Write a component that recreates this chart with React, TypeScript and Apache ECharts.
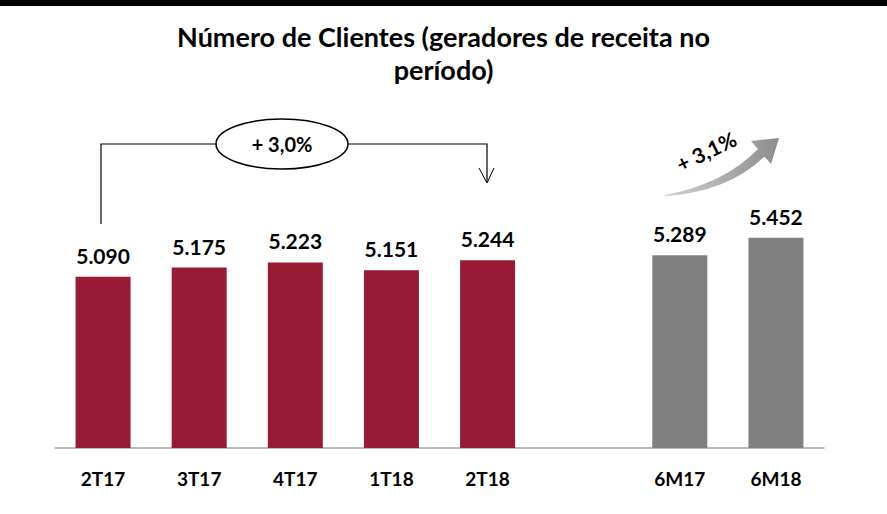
import React, { useEffect, useRef } from "react";
import * as echarts from "echarts";

const categories = ["2T17", "3T17", "4T17", "1T18", "2T18", "", "6M17", "6M18"];
const values: (number | null)[] = [5090, 5175, 5223, 5151, 5244, null, 5289, 5452];
const valueLabels = ["5.090", "5.175", "5.223", "5.151", "5.244", "", "5.289", "5.452"];
const barColors = ["#981B36", "#981B36", "#981B36", "#981B36", "#981B36", "#981B36", "#808080", "#808080"];
const growthQuarter = "+ 3,0%";
const growthSemester = "+ 3,1%";
const titleText = "Número de Clientes (geradores de receita no\nperíodo)";

const FONT = "Lato, 'Open Sans', sans-serif";

echarts.graphic.registerShape(
  "curvedArrow",
  echarts.graphic.extendPath(
    "M665 195 Q724 184 758 149 L765 156 Q728 192 665 196 Z M751 141 L779 138 L771 164 Z",
    {}
  )
);

export default function App() {
  const ref = useRef<HTMLDivElement>(null);
  useEffect(() => {
    if (!ref.current) return;
    const chart = echarts.init(ref.current, null, { renderer: "svg" });
    chart.setOption({
      animation: false,
      backgroundColor: "#ffffff",
      title: {
        text: titleText,
        left: "center",
        top: 15,
        textStyle: { fontFamily: FONT, fontWeight: "bold", fontSize: 27, lineHeight: 33, color: "#000" },
      },
      grid: { left: 55, right: 63, top: 71, bottom: 66 },
      xAxis: {
        type: "category",
        data: categories,
        axisLine: { show: true, lineStyle: { color: "#A6A6A6", width: 1.5 } },
        axisTick: { show: false },
        axisLabel: { margin: 21, fontFamily: FONT, fontWeight: "bold", fontSize: 19, color: "#000" },
      },
      yAxis: {
        type: "value",
        min: 3500,
        max: 7000,
        show: false,
        splitLine: { show: false },
      },
      series: [
        {
          type: "bar",
          barWidth: 55,
          data: values.map((v, i) => ({
            value: v === null ? "-" : v,
            itemStyle: { color: barColors[i] },
            label: { formatter: valueLabels[i] },
          })),
          label: {
            show: true,
            position: "top",
            distance: 11,
            fontFamily: FONT,
            fontWeight: "bold",
            fontSize: 21,
            color: "#000",
          },
        },
      ],
      graphic: [
        { type: "rect", shape: { x: 0, y: 0, width: 887, height: 6 }, style: { fill: "#000" } },
        {
          type: "polyline",
          shape: { points: [[101, 224], [101, 144], [487, 144], [487, 182]] },
          style: { stroke: "#000", lineWidth: 1.2, fill: "none" },
        },
        {
          type: "polyline",
          shape: { points: [[479, 168], [487, 183], [494, 168]] },
          style: { stroke: "#000", lineWidth: 1, fill: "none" },
        },
        {
          type: "ellipse",
          shape: { cx: 282, cy: 144, rx: 66, ry: 25 },
          style: { fill: "#fff", stroke: "#000", lineWidth: 1.5 },
        },
        {
          type: "text",
          x: 282,
          y: 144,
          style: {
            text: growthQuarter,
            fontFamily: FONT,
            fontWeight: "bold",
            fontSize: 20,
            fill: "#000",
            align: "center",
            verticalAlign: "middle",
          },
        },
        {
          type: "curvedArrow",
          x: 0,
          y: 0,
          style: {
            fill: new echarts.graphic.LinearGradient(0, 0, 1, 0, [
              { offset: 0, color: "#D0D0D0" },
              { offset: 1, color: "#8C8C8C" },
            ]),
            stroke: "none",
          },
        },
        {
          type: "text",
          x: 706,
          y: 151,
          rotation: 0.45,
          style: {
            text: growthSemester,
            fontFamily: FONT,
            fontWeight: "bold",
            fontSize: 21,
            fill: "#000",
            align: "center",
            verticalAlign: "middle",
          },
        },
      ],
    });
    return () => chart.dispose();
  }, []);
  return (
    <div
      ref={ref}
      style={{ position: "absolute", left: 0, top: 0, width: 887, height: 514 }}
    />
  );
}
